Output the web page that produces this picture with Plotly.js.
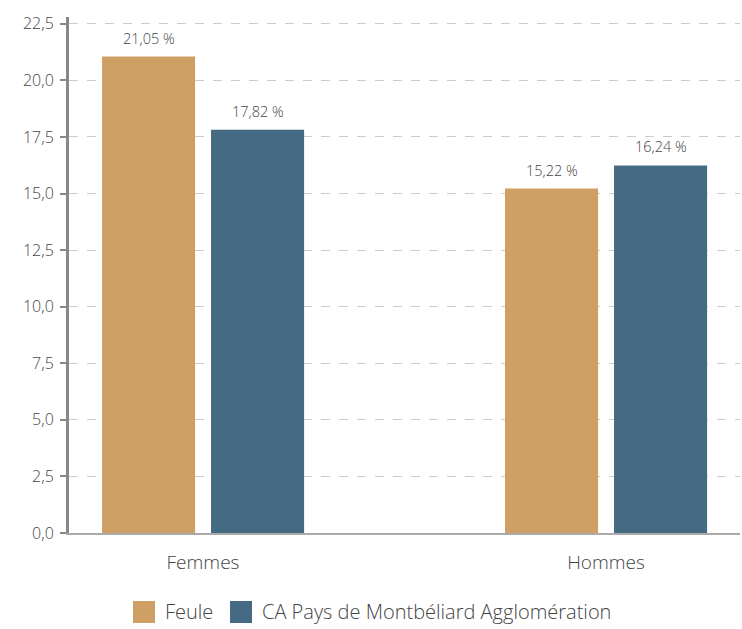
<!DOCTYPE html>
<html>
<head>
<meta charset="utf-8">
<script src="https://cdn.plot.ly/plotly-3.0.1.min.js"></script>
<style>html,body{margin:0;padding:0;background:#fff;}#chart{width:742px;height:629px;}</style>
</head>
<body>
<div id="chart"></div>
<script>
const categories = ["Femmes", "Hommes"];
const seriesNames = ["Feule", "CA Pays de Montbéliard Agglomération"];
const feuleValues = [21.05, 15.22];
const caValues = [17.82, 16.24];
const yTickValues = [0, 2.5, 5, 7.5, 10, 12.5, 15, 17.5, 20, 22.5];

const colors = ["#CFA066", "#446A84"];
const font = "Open Sans, sans-serif";
const barWidth = 0.231;
const offsets = [-0.2506, 0.0199];

function barTrace(name, values, color, offset) {
  return {
    type: "bar", name: name, x: categories, y: values,
    marker: {color: color},
    width: barWidth, offset: offset,
    hoverinfo: "skip",
    showlegend: false
  };
}

const series = [feuleValues, caValues];
const data = series.map((v, i) => barTrace(seriesNames[i], v, colors[i], offsets[i]));

const fmt = v => v.toFixed(2).replace(".", ",") + " %";
const annotations = [];
series.forEach((vals, i) => {
  vals.forEach((v, j) => {
    annotations.push({xref: "x", yref: "y", x: j + offsets[i] + barWidth / 2, y: v,
      xanchor: "center", yanchor: "bottom", yshift: 7, text: fmt(v), showarrow: false,
      font: {family: font, size: 14.5, color: "#444", weight: 300}});
  });
});

const legendSwatches = [[0.0954, 0.1282], [0.2399, 0.2727]];
const legendTextX = [0.1405, 0.2850];
const shapes = [];
seriesNames.forEach((n, i) => {
  shapes.push({type: "rect", xref: "paper", yref: "paper",
    x0: legendSwatches[i][0], x1: legendSwatches[i][1], y0: -0.1744, y1: -0.1318,
    fillcolor: colors[i], line: {width: 0}});
  annotations.push({xref: "paper", yref: "paper", x: legendTextX[i], y: -0.1531,
    xanchor: "left", yanchor: "middle", text: n, showarrow: false,
    font: {family: font, size: 20, color: "#444", weight: 300}});
});

const layout = {
  width: 742, height: 629,
  margin: {l: 69, r: 2, t: 17, b: 96},
  paper_bgcolor: "#fff", plot_bgcolor: "#fff",
  separators: ", ",
  barmode: "group",
  showlegend: false,
  font: {family: font, color: "#444"},
  xaxis: {
    type: "category", range: [-0.3325, 1.3325],
    showgrid: false, zeroline: false,
    showline: true, linecolor: "#aaa", linewidth: 2,
    ticks: "outside", ticklen: 11, tickcolor: "rgba(0,0,0,0)",
    tickfont: {family: font, size: 19, color: "#444", weight: 300}
  },
  yaxis: {
    range: [0, 22.8], tickvals: yTickValues, tickformat: ".1f",
    showgrid: true, gridcolor: "#cccccc", griddash: "dash", gridwidth: 1,
    zeroline: false,
    showline: true, linecolor: "#888", linewidth: 3,
    ticks: "outside", ticklen: 6, tickcolor: "#888", tickwidth: 2,
    ticklabelstandoff: 3,
    tickfont: {family: font, size: 16, color: "#444", weight: 300}
  },
  shapes: shapes,
  annotations: annotations
};

Plotly.newPlot("chart", data, layout, {staticPlot: true, displayModeBar: false});
</script>
</body>
</html>
